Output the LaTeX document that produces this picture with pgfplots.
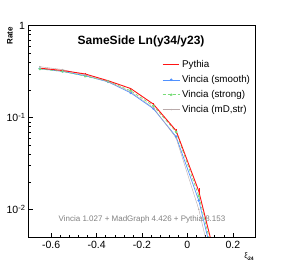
\documentclass[border=0pt]{standalone}
\usepackage{pgfplots}
\pgfplotsset{compat=1.18}
\usepackage{fontspec}
\setmainfont{Liberation Sans}
\definecolor{pyred}{RGB}{255,20,20}
\definecolor{cblue}{RGB}{80,145,255}
\definecolor{cgreen}{RGB}{120,220,120}
\definecolor{cgrey}{RGB}{185,170,170}
\begin{document}
\begin{tikzpicture}
\useasboundingbox (0pt,0pt) rectangle (284pt,264pt);
\begin{axis}[
  at={(28.5pt,27pt)}, anchor=south west,
  scale only axis, width=227pt, height=211.3pt,
  xmin=-0.7, xmax=0.3, ymode=log, ymin=0.005, ymax=1,
  xtick={-0.6,-0.4,-0.2,0,0.2},
  xticklabels={-0.6,-0.4,-0.2,0,0.2},
  minor x tick num=4,
  ytick={0.01,0.1,1},
  yticklabels={10\raisebox{0.6ex}{\fontsize{7.5}{7.5}\selectfont -2},10\raisebox{0.6ex}{\fontsize{7.5}{7.5}\selectfont -1},1},
  xtick pos=bottom, ytick pos=left,
  tick align=inside,
  major tick length=4pt, minor tick length=2pt,
  tick style={black, line width=0.4pt},
  axis line style={line width=0.6pt},
  ticklabel style={font=\fontsize{10.5}{10.5}\selectfont},
  xticklabel style={yshift=-1pt},
  clip=true,
  legend style={draw=none, fill=none, at={(0.588,0.845)}, anchor=north west,
    font=\fontsize{9.8}{9.8}\selectfont, row sep=2.3pt, inner sep=0pt},
  legend cell align=left,
]
\addlegendimage{legend image code/.code={\draw[draw=pyred, line width=1pt] (0pt,0pt) -- (16pt,0pt);}}
\addlegendentry{Pythia}
\addplot[color=cblue, line width=0.7pt, mark=*, mark size=0.9pt] coordinates {
 (-0.65,0.340) (-0.55,0.318) (-0.45,0.285) (-0.35,0.245) (-0.25,0.186) (-0.15,0.125) (-0.05,0.062) (0.05,0.0125) (0.15,0.0012)};
\addlegendentry{Vincia (smooth)}
\addplot[color=cgreen, line width=0.7pt, densely dashed, mark=star, mark size=1.3pt, mark options={solid}] coordinates {
 (-0.65,0.338) (-0.55,0.318) (-0.45,0.282) (-0.35,0.248) (-0.25,0.196) (-0.15,0.134) (-0.05,0.070) (0.05,0.0140) (0.15,0.0014)};
\addlegendentry{Vincia (strong)}
\addplot[color=cgrey, line width=0.4pt, mark=*, mark size=0.5pt] coordinates {
 (-0.65,0.358) (-0.55,0.333) (-0.45,0.290) (-0.35,0.246) (-0.25,0.190) (-0.15,0.128) (-0.05,0.060) (0.05,0.0100) (0.15,0.0009)};
\addlegendentry{Vincia (mD,str)}
\addplot[color=pyred, line width=0.9pt, mark=none, forget plot] coordinates {
 (-0.65,0.345) (-0.55,0.325) (-0.45,0.298) (-0.35,0.252) (-0.25,0.207) (-0.15,0.140) (-0.05,0.072) (0.05,0.0158) (0.15,0.0016)};
\addplot[draw=none, mark=none, forget plot, error bars/.cd, y dir=both, y explicit, error mark=none, error bar style={color=pyred, line width=0.5pt}] coordinates {
 (-0.65,0.345) +- (0,0.004) (-0.55,0.325) +- (0,0.004) (-0.45,0.298) +- (0,0.004) (-0.35,0.252) +- (0,0.004)
 (-0.25,0.207) +- (0,0.004) (-0.15,0.140) +- (0,0.004) (-0.05,0.072) +- (0,0.003) (0.05,0.0158) +- (0,0.0013) (0.15,0.0016) +- (0,0.0003)};
\node[font=\bfseries\fontsize{12}{12}\selectfont] at (rel axis cs:0.496,0.928) {SameSide Ln(y34/y23)};
\node[font=\fontsize{8}{8}\selectfont, text=gray] at (rel axis cs:0.5,0.085) {Vincia 1.027 + MadGraph 4.426 + Pythia 8.153};
\end{axis}
\node[rotate=90, anchor=east, font=\bfseries\fontsize{8}{8}\selectfont, inner sep=0pt] at (10pt,237pt) {Rate};
\node[anchor=center, inner sep=0pt] at (249pt,7.5pt) {{\fontsize{8}{8}\selectfont ξ}\raisebox{-2.2pt}{\bfseries\fontsize{5}{5}\selectfont 24}};
\end{tikzpicture}
\end{document}
